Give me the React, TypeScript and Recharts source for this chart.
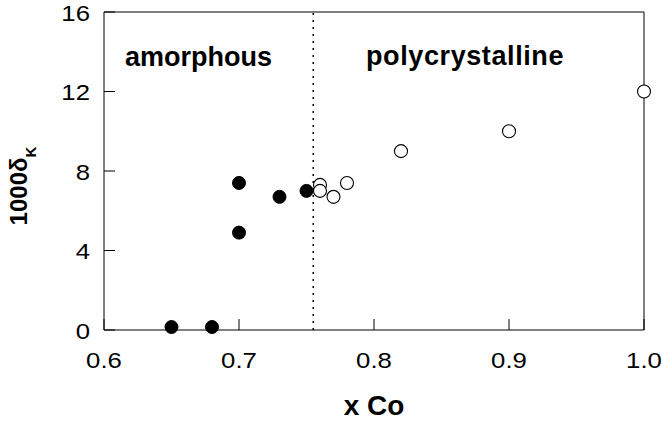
import React from 'react';
import { ScatterChart, Scatter, XAxis, YAxis, ReferenceLine, Customized } from 'recharts';

// ---- data ----
const xTicks = [0.6, 0.7, 0.8, 0.9, 1.0];
const yTicks = [0, 4, 8, 12, 16];
const amorphousX = [0.65, 0.68, 0.7, 0.7, 0.73, 0.75];
const amorphousY = [0.15, 0.15, 4.9, 7.4, 6.7, 7.0];
const polyX = [0.76, 0.76, 0.77, 0.78, 0.82, 0.9, 1.0];
const polyY = [7.3, 7.0, 6.7, 7.4, 9.0, 10.0, 12.0];
const boundaryX = 0.755;
const regionLabels = ['amorphous', 'polycrystalline'];
const xTitle = 'x Co';
const yTitleMain = '1000δ';
const yTitleSub = 'K';

const amorphousData = amorphousX.map((x, i) => ({ x, y: amorphousY[i] }));
const polyData = polyX.map((x, i) => ({ x, y: polyY[i] }));

// ---- style ----
const W = 662;
const H = 425;
const FONT = '"Liberation Sans", Arial, Helvetica, sans-serif';
const TICK = 11;
const TICK_FS = 23;
const SX = 1.12;
const R = 6.5;

const bottomTick = (p: any) => {
  const { x, y, payload } = p;
  return (
    <g key={`b${payload.value}`}>
      <line x1={x} y1={y} x2={x} y2={y - TICK} stroke="#000" strokeWidth={1} />
      <text
        transform={`translate(${x},${y + 38}) scale(${SX},1)`}
        textAnchor="middle"
        fontFamily={FONT}
        fontSize={TICK_FS}
        fill="#000"
      >
        {Number(payload.value).toFixed(1)}
      </text>
    </g>
  );
};
const topTick = (p: any) => {
  const { x, y, payload } = p;
  return (
    <g key={`t${payload.value}`}>
      <line x1={x} y1={y} x2={x} y2={y + TICK} stroke="#000" strokeWidth={1} />
    </g>
  );
};
const leftTick = (p: any) => {
  const { x, y, payload } = p;
  return (
    <g key={`l${payload.value}`}>
      <line x1={x} y1={y} x2={x + TICK} y2={y} stroke="#000" strokeWidth={1} />
      <text
        transform={`translate(${x - 14},${y + 8.5}) scale(${SX},1)`}
        textAnchor="end"
        fontFamily={FONT}
        fontSize={TICK_FS}
        fill="#000"
      >
        {payload.value}
      </text>
    </g>
  );
};
const rightTick = (p: any) => {
  const { x, y, payload } = p;
  return (
    <g key={`r${payload.value}`}>
      <line x1={x} y1={y} x2={x - TICK} y2={y} stroke="#000" strokeWidth={1} />
    </g>
  );
};

const Filled = (p: any) => <circle cx={p.cx} cy={p.cy} r={R} fill="#000" stroke="#000" strokeWidth={1} />;
const Open = (p: any) => <circle cx={p.cx} cy={p.cy} r={R} fill="#fff" stroke="#000" strokeWidth={1.1} />;

const Texts = () => (
  <g fontFamily={FONT} fill="#000">
    <text x={125} y={66} fontSize={27} fontWeight="bold">{regionLabels[0]}</text>
    <text x={366} y={65} fontSize={27} fontWeight="bold" letterSpacing={0.6}>{regionLabels[1]}</text>
    <text x={374} y={415} fontSize={28} fontWeight="bold" textAnchor="middle">{xTitle}</text>
    <text transform="translate(27,186) rotate(-90)" textAnchor="middle" fontSize={24} fontWeight="bold">
      {yTitleMain}
      <tspan fontSize={15} dy={9}>{yTitleSub}</tspan>
    </text>
  </g>
);

export default function App() {
  return (
    <div style={{ position: 'absolute', left: 0, top: 0, width: W, height: H, background: '#fff' }}>
      <ScatterChart width={W} height={H} margin={{ top: 11, right: 17, bottom: 0, left: 0 }}>
        <XAxis
          xAxisId="b"
          type="number"
          dataKey="x"
          domain={[0.6, 1.0]}
          ticks={xTicks}
          orientation="bottom"
          height={95}
          tickSize={0}
          tickMargin={0}
          tickLine={false}
          axisLine={{ stroke: '#000', strokeWidth: 1 }}
          tick={bottomTick}
          interval={0}
        />
        <XAxis
          xAxisId="t"
          type="number"
          dataKey="x"
          domain={[0.6, 1.0]}
          ticks={xTicks}
          orientation="top"
          height={1}
          tickSize={0}
          tickMargin={0}
          tickLine={false}
          axisLine={{ stroke: '#000', strokeWidth: 1 }}
          tick={topTick}
          interval={0}
        />
        <YAxis
          yAxisId="l"
          type="number"
          dataKey="y"
          domain={[0, 16]}
          ticks={yTicks}
          orientation="left"
          width={104}
          tickSize={0}
          tickMargin={0}
          tickLine={false}
          axisLine={{ stroke: '#000', strokeWidth: 1 }}
          tick={leftTick}
          interval={0}
        />
        <YAxis
          yAxisId="r"
          type="number"
          dataKey="y"
          domain={[0, 16]}
          ticks={yTicks}
          orientation="right"
          width={1}
          tickSize={0}
          tickMargin={0}
          tickLine={false}
          axisLine={{ stroke: '#000', strokeWidth: 1 }}
          tick={rightTick}
          interval={0}
        />
        <ReferenceLine
          xAxisId="b"
          yAxisId="l"
          x={boundaryX}
          stroke="#000"
          strokeWidth={1.5}
          strokeDasharray="2 5"
        />
        <Scatter xAxisId="b" yAxisId="l" data={amorphousData} shape={<Filled />} isAnimationActive={false} />
        <Scatter xAxisId="b" yAxisId="l" data={polyData} shape={<Open />} isAnimationActive={false} />
        <Customized component={<Texts />} />
      </ScatterChart>
    </div>
  );
}
